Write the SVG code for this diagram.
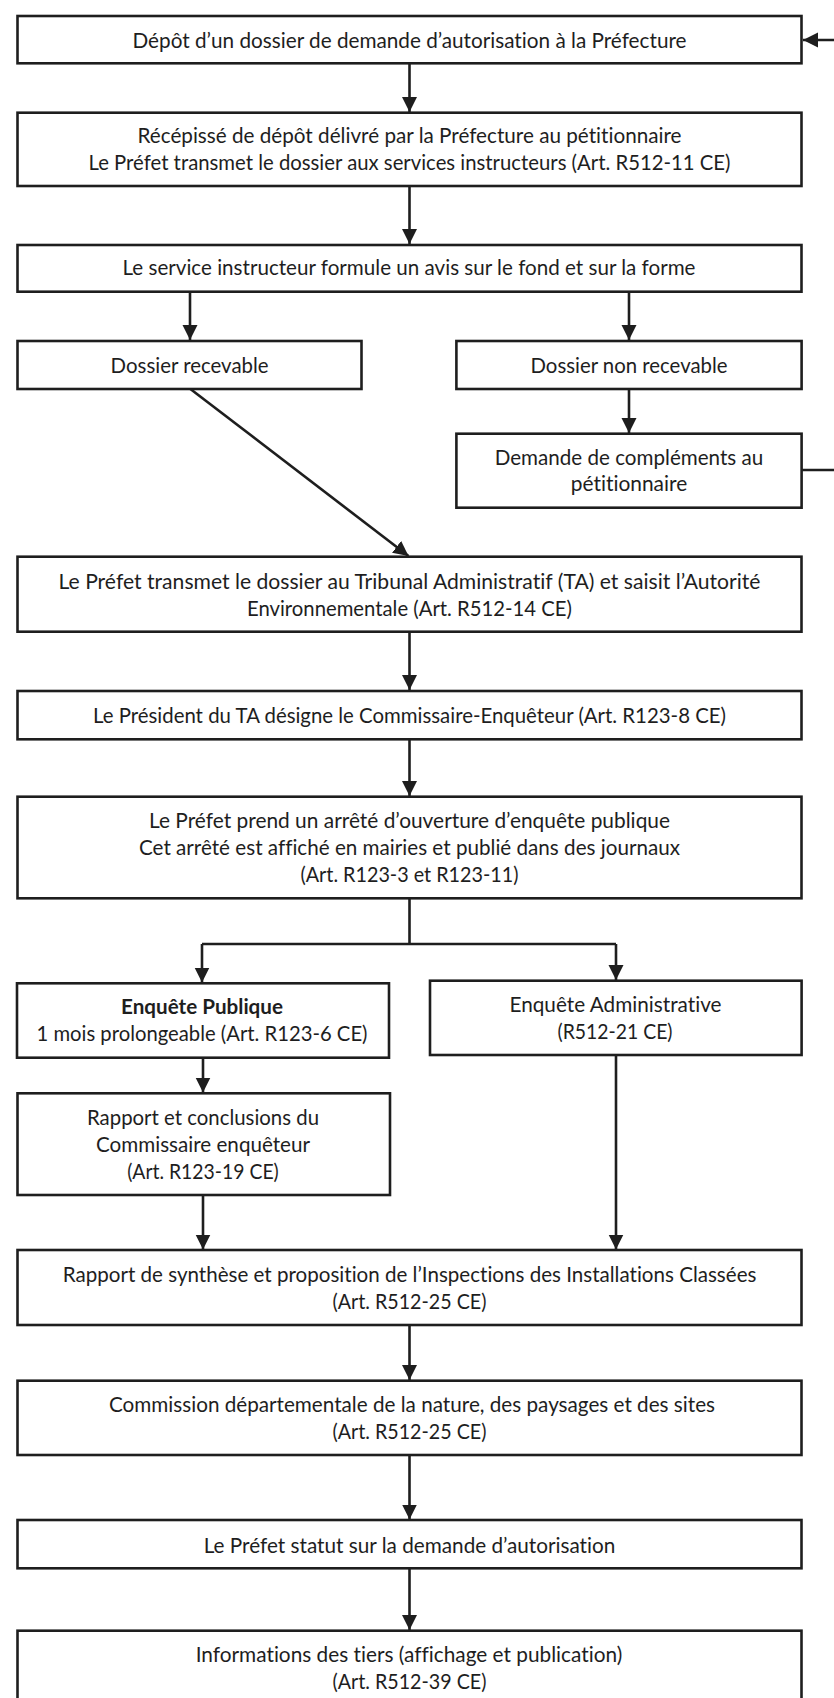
<svg xmlns="http://www.w3.org/2000/svg" width="834" height="1698" viewBox="0 0 834 1698">
<style>
.box{fill:#fff;stroke:#1e1e1e;stroke-width:2.6}
.t{font-family:Lato,"Open Sans","Liberation Sans",sans-serif;font-size:20.5px;fill:#1e1e1e;text-anchor:middle;font-variant-ligatures:none}
.b{font-weight:bold}
.c{fill:none;stroke:#1e1e1e;stroke-width:2.6}
</style>
<defs>
<marker id="ah" markerUnits="userSpaceOnUse" markerWidth="16" markerHeight="16" refX="15" refY="7.5" orient="auto">
<path d="M0,0 L15,7.5 L0,15 z" fill="#1e1e1e"/>
</marker>
</defs>
<rect width="834" height="1698" fill="#fff"/>
<g id="connectors">
<line class="c" x1="409.5" y1="63" x2="409.5" y2="112" marker-end="url(#ah)"/>
<line class="c" x1="409.5" y1="186" x2="409.5" y2="244" marker-end="url(#ah)"/>
<line class="c" x1="190" y1="292" x2="190" y2="340" marker-end="url(#ah)"/>
<line class="c" x1="629" y1="292" x2="629" y2="340" marker-end="url(#ah)"/>
<line class="c" x1="629" y1="389" x2="629" y2="433" marker-end="url(#ah)"/>
<line class="c" x1="190.4" y1="389" x2="408.5" y2="556" marker-end="url(#ah)"/>
<path class="c" d="M801.5,470 H845 V40 H803" marker-end="url(#ah)"/>
<line class="c" x1="409.5" y1="632" x2="409.5" y2="690" marker-end="url(#ah)"/>
<line class="c" x1="409.5" y1="739" x2="409.5" y2="796" marker-end="url(#ah)"/>
<path class="c" d="M409.5,898 V944 M202,944 H616"/>
<line class="c" x1="202" y1="944" x2="202" y2="982.5" marker-end="url(#ah)"/>
<line class="c" x1="616" y1="944" x2="616" y2="980" marker-end="url(#ah)"/>
<line class="c" x1="203" y1="1058" x2="203" y2="1092.5" marker-end="url(#ah)"/>
<line class="c" x1="616" y1="1055" x2="616" y2="1249.5" marker-end="url(#ah)"/>
<line class="c" x1="203" y1="1195" x2="203" y2="1249.5" marker-end="url(#ah)"/>
<line class="c" x1="409.5" y1="1325" x2="409.5" y2="1380" marker-end="url(#ah)"/>
<line class="c" x1="409.5" y1="1455" x2="409.5" y2="1519.5" marker-end="url(#ah)"/>
<line class="c" x1="409.5" y1="1568" x2="409.5" y2="1630" marker-end="url(#ah)"/>
</g>
<g id="n1"><rect class="box" x="17.5" y="16" width="784" height="47.3"/>
<text class="t" x="409.5" y="47.5" textLength="554" lengthAdjust="spacingAndGlyphs">Dépôt d’un dossier de demande d’autorisation à la Préfecture</text></g>
<g id="n2"><rect class="box" x="17.5" y="112.7" width="784" height="73.3"/>
<text class="t" x="409.5" y="142.7" textLength="544" lengthAdjust="spacingAndGlyphs">Récépissé de dépôt délivré par la Préfecture au pétitionnaire</text>
<text class="t" x="409.5" y="170.3" textLength="642" lengthAdjust="spacingAndGlyphs">Le Préfet transmet le dossier aux services instructeurs (Art. R512-11 CE)</text></g>
<g id="n3"><rect class="box" x="17.5" y="245" width="784" height="46.7"/>
<text class="t" x="409" y="275.3" textLength="573" lengthAdjust="spacingAndGlyphs">Le service instructeur formule un avis sur le fond et sur la forme</text></g>
<g id="n4"><rect class="box" x="17.5" y="341" width="344" height="48"/>
<text class="t" x="189.6" y="372.7" textLength="158" lengthAdjust="spacingAndGlyphs">Dossier recevable</text></g>
<g id="n5"><rect class="box" x="456.4" y="341" width="345.2" height="48"/>
<text class="t" x="629" y="372.7" textLength="197" lengthAdjust="spacingAndGlyphs">Dossier non recevable</text></g>
<g id="n6"><rect class="box" x="456.4" y="433.7" width="345.2" height="74"/>
<text class="t" x="629" y="465" textLength="268.6" lengthAdjust="spacingAndGlyphs">Demande de compléments au</text>
<text class="t" x="629" y="491" textLength="116.5" lengthAdjust="spacingAndGlyphs">pétitionnaire</text></g>
<g id="n7"><rect class="box" x="17.5" y="556.7" width="784" height="75"/>
<text class="t" x="409.5" y="588.7" textLength="702" lengthAdjust="spacingAndGlyphs">Le Préfet transmet le dossier au Tribunal Administratif (TA)  et saisit  l’Autorité</text>
<text class="t" x="409.5" y="616" textLength="325" lengthAdjust="spacingAndGlyphs">Environnementale (Art. R512-14 CE)</text></g>
<g id="n8"><rect class="box" x="17.5" y="691" width="784" height="48.3"/>
<text class="t" x="409.5" y="722.7" textLength="633" lengthAdjust="spacingAndGlyphs">Le Président du TA désigne le Commissaire-Enquêteur (Art. R123-8 CE)</text></g>
<g id="n9"><rect class="box" x="17.5" y="796.7" width="784" height="101.6"/>
<text class="t" x="409.5" y="828.3" textLength="521" lengthAdjust="spacingAndGlyphs">Le Préfet prend un arrêté d’ouverture d’enquête publique</text>
<text class="t" x="409.5" y="855.3" textLength="541" lengthAdjust="spacingAndGlyphs">Cet arrêté est affiché en mairies et publié dans des journaux</text>
<text class="t" x="409.5" y="882" textLength="218" lengthAdjust="spacingAndGlyphs">(Art. R123-3 et R123-11)</text></g>
<g id="n10"><rect class="box" x="17" y="983.3" width="372" height="74.4"/>
<text class="t b" x="202" y="1014.3" textLength="162" lengthAdjust="spacingAndGlyphs">Enquête Publique</text>
<text class="t" x="202" y="1041" textLength="331" lengthAdjust="spacingAndGlyphs">1 mois prolongeable (Art. R123-6 CE)</text></g>
<g id="n11"><rect class="box" x="430" y="980.7" width="371.6" height="74.3"/>
<text class="t" x="615.5" y="1011.7" textLength="212" lengthAdjust="spacingAndGlyphs">Enquête Administrative</text>
<text class="t" x="615" y="1038.7" textLength="115" lengthAdjust="spacingAndGlyphs">(R512-21 CE)</text></g>
<g id="n12"><rect class="box" x="17.5" y="1093.3" width="372.5" height="101.7"/>
<text class="t" x="203" y="1125" textLength="232" lengthAdjust="spacingAndGlyphs">Rapport et conclusions du</text>
<text class="t" x="203" y="1151.7" textLength="214" lengthAdjust="spacingAndGlyphs">Commissaire enquêteur</text>
<text class="t" x="203" y="1178.5" textLength="151.6" lengthAdjust="spacingAndGlyphs">(Art. R123-19 CE)</text></g>
<g id="n13"><rect class="box" x="17.5" y="1250" width="784" height="75"/>
<text class="t" x="409.6" y="1281.7" textLength="693.6" lengthAdjust="spacingAndGlyphs">Rapport de synthèse et proposition de l’Inspections des Installations Classées</text>
<text class="t" x="409.5" y="1309.3" textLength="154" lengthAdjust="spacingAndGlyphs">(Art. R512-25 CE)</text></g>
<g id="n14"><rect class="box" x="17.5" y="1380.7" width="784" height="74.3"/>
<text class="t" x="412" y="1412" textLength="606" lengthAdjust="spacingAndGlyphs">Commission départementale de la nature, des paysages et des sites</text>
<text class="t" x="409.5" y="1439.3" textLength="154" lengthAdjust="spacingAndGlyphs">(Art. R512-25 CE)</text></g>
<g id="n15"><rect class="box" x="17.5" y="1520" width="784" height="48.3"/>
<text class="t" x="409.5" y="1552.7" textLength="411.7" lengthAdjust="spacingAndGlyphs">Le Préfet statut sur la demande d’autorisation</text></g>
<g id="n16"><rect class="box" x="17.5" y="1630.7" width="784" height="80"/>
<text class="t" x="409" y="1662" textLength="426.6" lengthAdjust="spacingAndGlyphs">Informations des tiers (affichage et publication)</text>
<text class="t" x="409.5" y="1689.3" textLength="154" lengthAdjust="spacingAndGlyphs">(Art. R512-39 CE)</text></g>
</svg>
